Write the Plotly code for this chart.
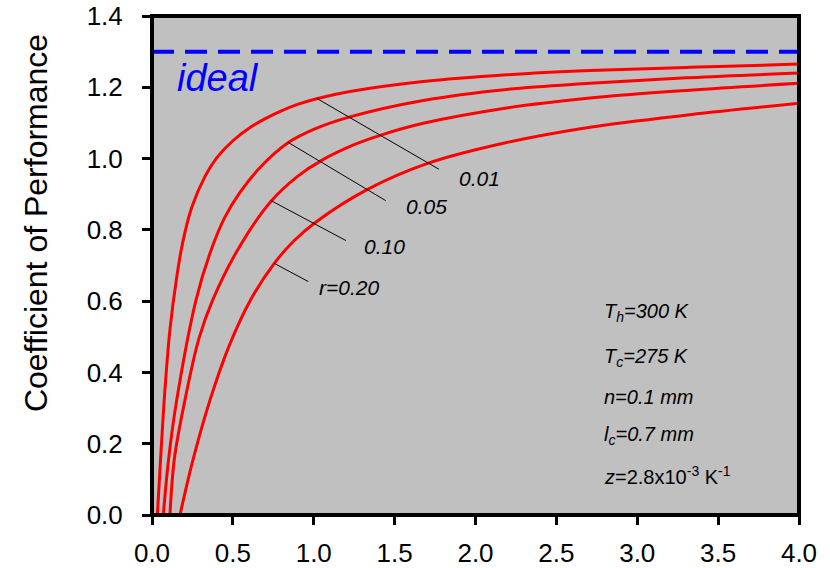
import plotly.graph_objects as go

# ---------------- data ----------------
x_r001 = [0.033, 0.054, 0.080, 0.111, 0.153, 0.190, 0.245, 0.328, 0.400, 0.500, 0.600, 0.700,
          0.800, 0.900, 1.018, 1.224, 1.677, 2.193, 2.708, 3.326, 4.0]
y_r001 = [0.0, 0.164, 0.351, 0.520, 0.668, 0.765, 0.862, 0.950, 1.002, 1.050, 1.085, 1.112,
          1.134, 1.152, 1.168, 1.188, 1.216, 1.235, 1.247, 1.256, 1.265]

x_r005 = [0.070, 0.102, 0.153, 0.272, 0.359, 0.450, 0.544, 0.668, 0.843, 1.000, 1.224, 1.677,
          2.193, 2.708, 3.326, 4.0]
y_r005 = [0.0, 0.154, 0.323, 0.603, 0.735, 0.835, 0.905, 0.975, 1.045, 1.082, 1.117, 1.163,
          1.194, 1.211, 1.227, 1.240]

x_r010 = [0.111, 0.139, 0.204, 0.290, 0.375, 0.544, 0.736, 0.900, 1.049, 1.250, 1.430, 1.677,
          2.193, 2.708, 3.326, 4.0]
y_r010 = [0.0, 0.160, 0.323, 0.495, 0.603, 0.755, 0.880, 0.950, 0.995, 1.039, 1.068, 1.099,
          1.142, 1.170, 1.192, 1.211]

x_r020 = [0.173, 0.253, 0.359, 0.480, 0.610, 0.756, 0.880, 1.014, 1.327, 1.708, 2.193, 2.708, 3.326, 4.0]
y_r020 = [0.0, 0.154, 0.323, 0.478, 0.604, 0.706, 0.770, 0.822, 0.912, 0.987, 1.045, 1.088, 1.123, 1.155]

ideal_x = [0.0, 4.0]
ideal_y = [1.3, 1.3]

x_tickvals = [0.0, 0.5, 1.0, 1.5, 2.0, 2.5, 3.0, 3.5, 4.0]
x_ticktext = ["0.0", "0.5", "1.0", "1.5", "2.0", "2.5", "3.0", "3.5", "4.0"]
y_tickvals = [0.0, 0.2, 0.4, 0.6, 0.8, 1.0, 1.2, 1.4]
y_ticktext = ["0.0", "0.2", "0.4", "0.6", "0.8", "1.0", "1.2", "1.4"]

curve_labels = ["0.01", "0.05", "0.10", "r=0.20"]
param_lines = [
    "<i>T<sub>h</sub>=300 K</i>",
    "<i>T<sub>c</sub>=275 K</i>",
    "<i>n=0.1 mm</i>",
    "<i>l<sub>c</sub>=0.7 mm</i>",
    "<i>z</i>=2.8x10<sup>-3</sup> K<sup>-1</sup>",
]

# ---------------- figure ----------------
FONT = "Liberation Sans, Arial, sans-serif"
fig = go.Figure()

fig.add_trace(go.Scatter(x=ideal_x, y=ideal_y, mode="lines",
                         line=dict(color="#0000FF", width=4, dash="22px,11px"),
                         hoverinfo="skip"))

for xs, ys in [(x_r001, y_r001), (x_r005, y_r005), (x_r010, y_r010), (x_r020, y_r020)]:
    fig.add_trace(go.Scatter(x=xs, y=ys, mode="lines",
                             line=dict(color="#FF0000", width=3, shape="spline", smoothing=1.0),
                             hoverinfo="skip"))

# leader lines (annotation furniture)
leaders = [
    (1.018, 1.169, 1.774, 0.970),
    (0.843, 1.045, 1.445, 0.882),
    (0.736, 0.882, 1.199, 0.770),
    (0.756, 0.706, 0.966, 0.655),
]
shapes = []
for x0, y0, x1, y1 in leaders:
    shapes.append(dict(type="line", xref="x", yref="y", x0=x0, y0=y0, x1=x1, y1=y1,
                       line=dict(color="black", width=1)))
# frame
shapes.append(dict(type="rect", xref="paper", yref="paper", x0=0, y0=0, x1=1, y1=1,
                   line=dict(color="black", width=4), layer="above"))

label_pos = [(1.884, 0.945), (1.560, 0.865), (1.296, 0.753), (1.018, 0.639)]
annotations = []
for txt, (lx, ly) in zip(curve_labels, label_pos):
    annotations.append(dict(x=lx, y=ly, xref="x", yref="y", text="<i>%s</i>" % txt,
                            showarrow=False, xanchor="left", yanchor="middle",
                            font=dict(family=FONT, size=21, color="black")))

annotations.append(dict(x=0.142, y=1.226, xref="x", yref="y", text="<i>ideal</i>",
                        showarrow=False, xanchor="left", yanchor="middle",
                        font=dict(family=FONT, size=38, color="#0000FF")))

param_y = [0.569, 0.443, 0.332, 0.222, 0.112]
for txt, py in zip(param_lines, param_y):
    annotations.append(dict(x=2.782, y=py, xref="x", yref="y", text=txt,
                            showarrow=False, xanchor="left", yanchor="middle",
                            font=dict(family=FONT, size=20, color="black")))

annotations.append(dict(x=-0.180, y=0.584, xref="paper", yref="paper",
                        text="Coefficient of Performance", textangle=-90,
                        showarrow=False, xanchor="center", yanchor="middle",
                        font=dict(family=FONT, size=32, color="black")))

fig.update_layout(
    template="none",
    width=830, height=568,
    margin=dict(l=152, r=31, t=16, b=53, pad=0, autoexpand=False),
    paper_bgcolor="white", plot_bgcolor="#C0C0C0",
    showlegend=False, hovermode=False,
    shapes=shapes, annotations=annotations,
    font=dict(family=FONT, size=26, color="black"),
)
fig.update_xaxes(range=[0, 4.0], tickvals=x_tickvals, ticktext=x_ticktext, automargin=False,
                 showgrid=False, zeroline=False, showline=False,
                 ticks="outside", ticklen=9, tickwidth=3, tickcolor="black",
                 ticklabelstandoff=6,
                 tickfont=dict(family=FONT, size=26, color="black"))
fig.update_yaxes(range=[0, 1.4], tickvals=y_tickvals, ticktext=y_ticktext, automargin=False,
                 showgrid=False, zeroline=False, showline=False,
                 ticks="outside", ticklen=9, tickwidth=3, tickcolor="black",
                 ticklabelstandoff=14,
                 tickfont=dict(family=FONT, size=26, color="black"))

fig.write_html("out.html", config={"displayModeBar": False, "staticPlot": True},
               post_script="document.body.style.margin='0';document.body.style.overflow='hidden';")
